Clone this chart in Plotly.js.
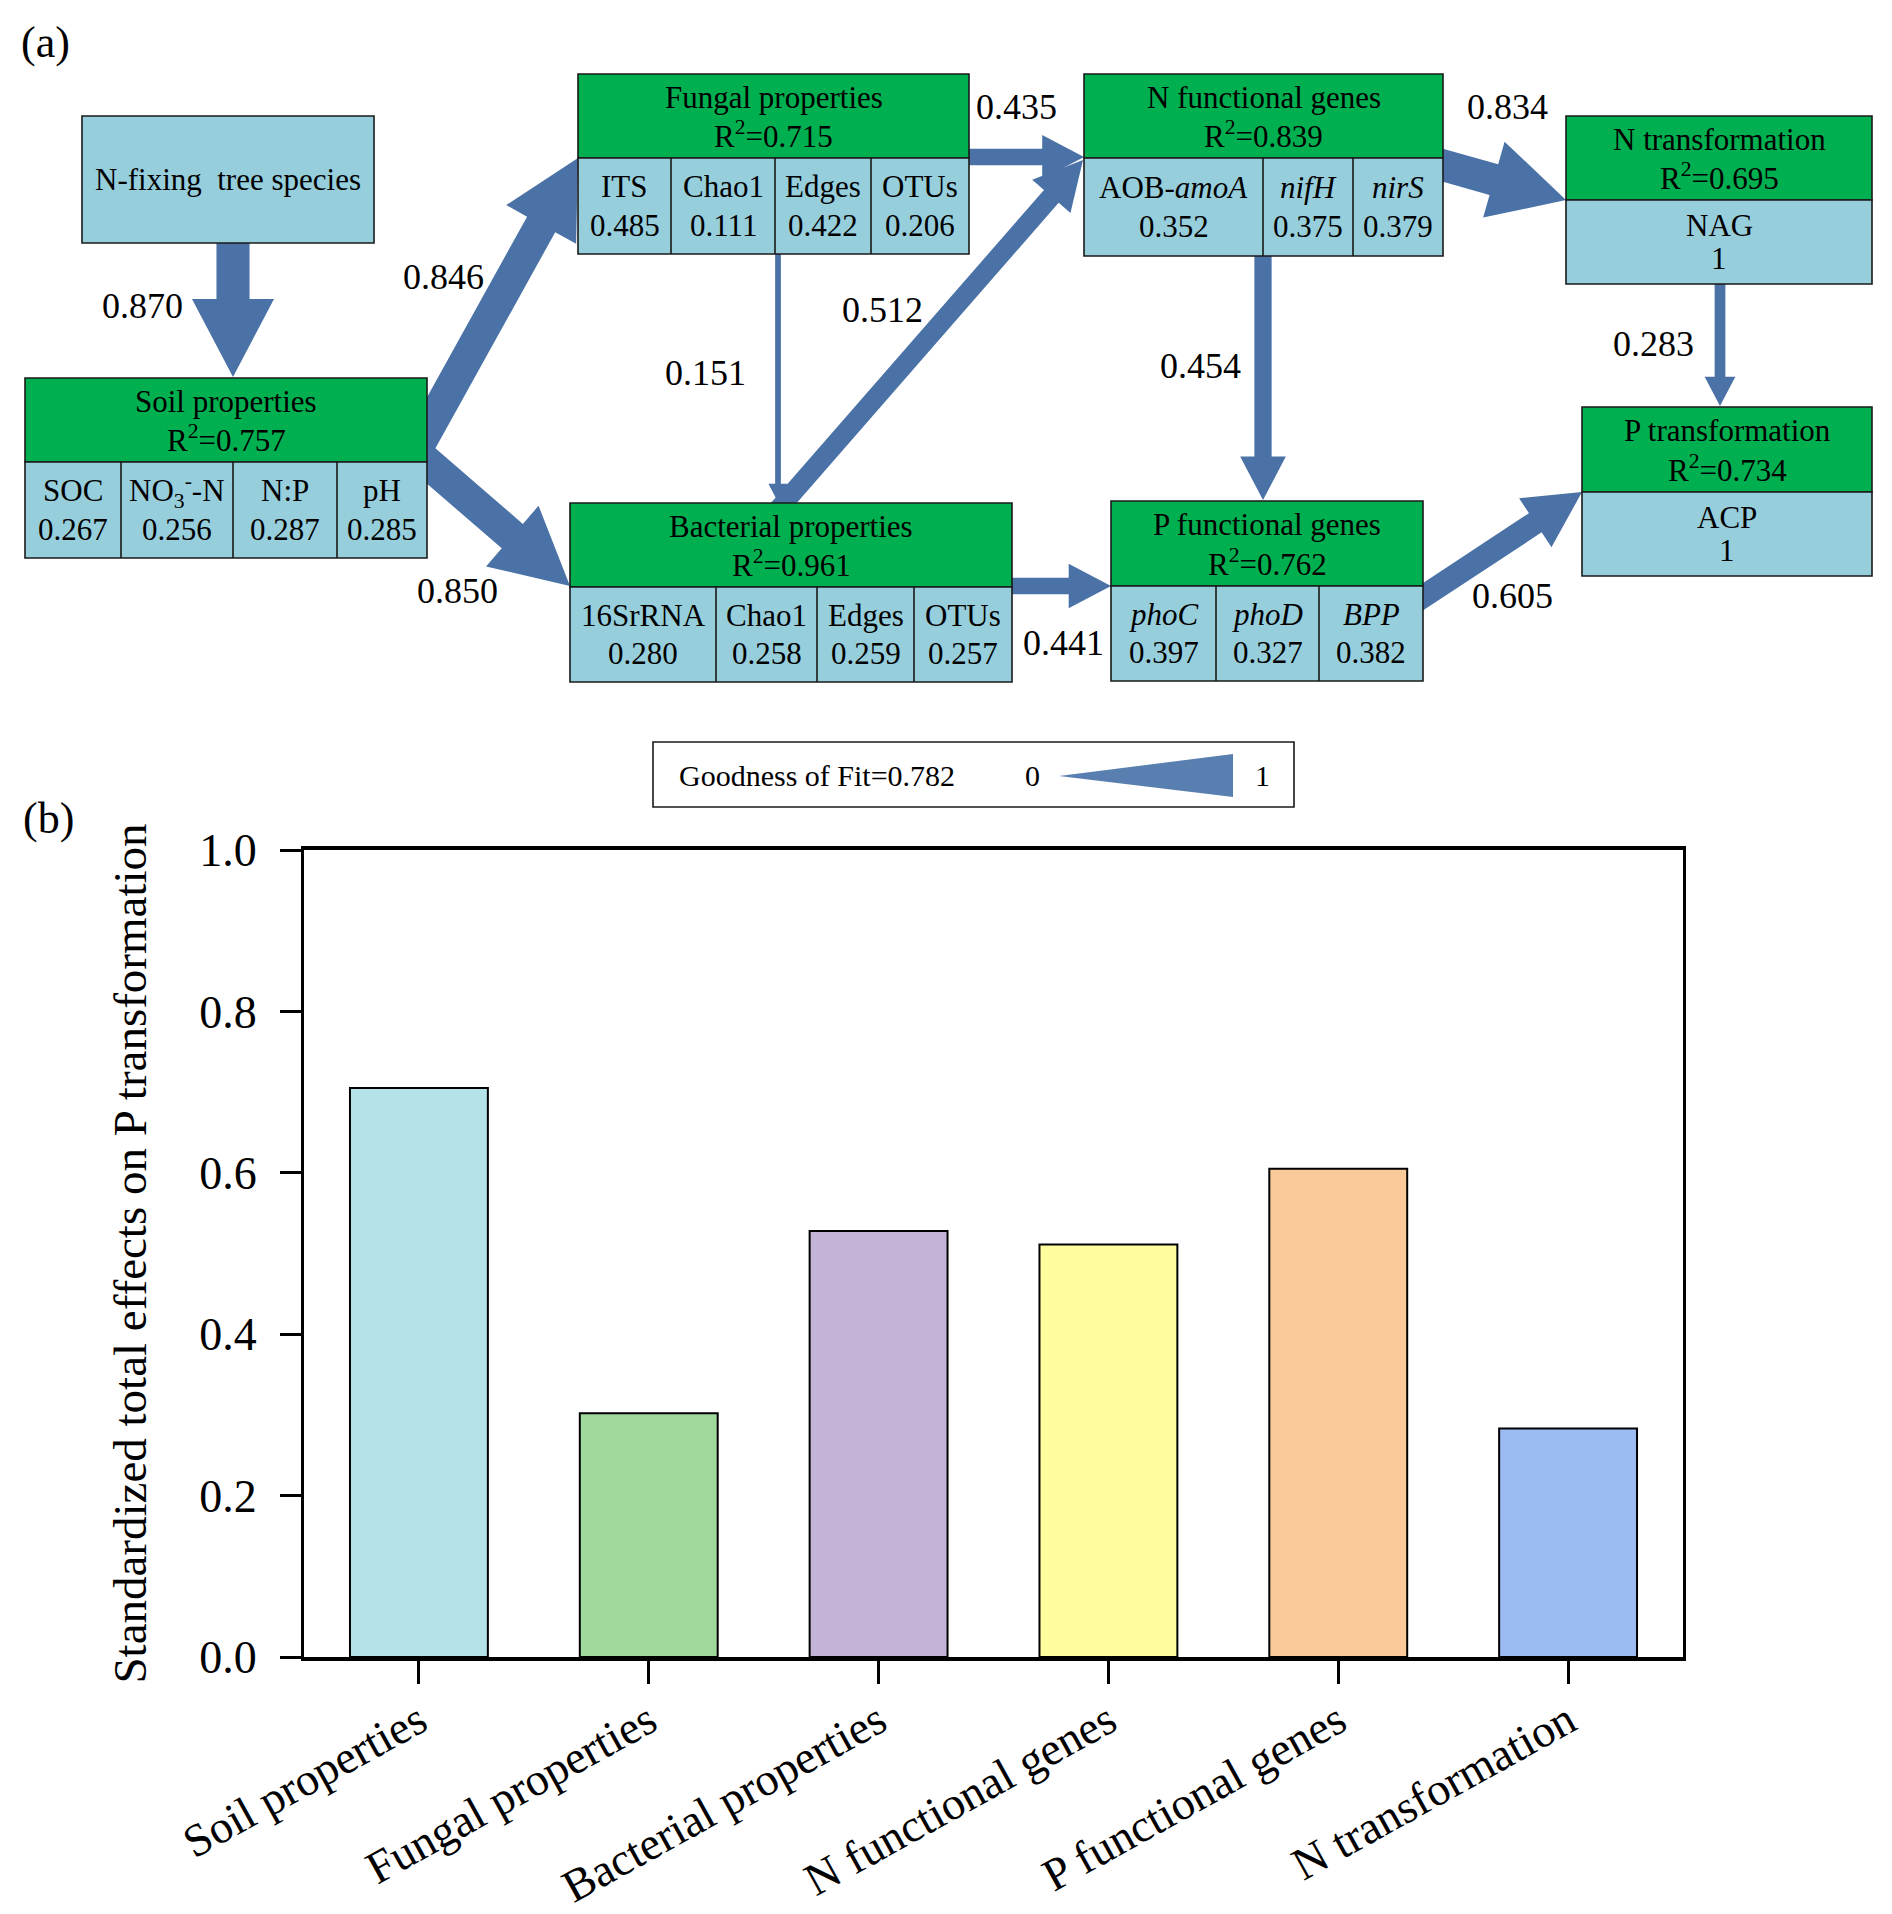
<!DOCTYPE html>
<html>
<head>
<meta charset="utf-8">
<script src="https://cdn.plot.ly/plotly-3.0.1.min.js"></script>
<style>html,body{margin:0;padding:0;background:#fff;}#chart{width:1892px;height:1914px;}</style>
</head>
<body>
<div id="chart"></div>
<script>
// ---------------- DATA ----------------
const categories = ['Soil properties', 'Fungal properties', 'Bacterial properties', 'N functional genes', 'P functional genes', 'N transformation'];
const totalEffects = [0.705, 0.302, 0.528, 0.511, 0.605, 0.283];
const yTickValues = [0.0, 0.2, 0.4, 0.6, 0.8, 1.0];

const nodeNames = ['N-fixing\u00a0 tree species', 'Soil properties', 'Fungal properties', 'Bacterial properties', 'N functional genes', 'P functional genes', 'N transformation', 'P transformation'];
const nodeR2 = [null, 0.757, 0.715, 0.961, 0.839, 0.762, 0.695, 0.734];
const nodeIndicators = [[], ['SOC', 'NO<sub>3</sub><sup>-</sup>-N', 'N:P', 'pH'], ['ITS', 'Chao1', 'Edges', 'OTUs'], ['16SrRNA', 'Chao1', 'Edges', 'OTUs'], ['AOB-<i>amoA</i>', '<i>nifH</i>', '<i>nirS</i>'], ['<i>phoC</i>', '<i>phoD</i>', '<i>BPP</i>'], ['NAG'], ['ACP']];
const nodeLoadings = [[], [0.267, 0.256, 0.287, 0.285], [0.485, 0.111, 0.422, 0.206], [0.280, 0.258, 0.259, 0.257], [0.352, 0.375, 0.379], [0.397, 0.327, 0.382], [1], [1]];

const pathFrom = [0, 1, 1, 2, 2, 3, 3, 4, 4, 5, 6];
const pathTo   = [1, 2, 3, 3, 4, 4, 5, 5, 6, 7, 7];
const pathCoef = [0.870, 0.846, 0.850, 0.151, 0.435, 0.512, 0.441, 0.454, 0.834, 0.605, 0.283];
const goodnessOfFit = 0.782;

// ---------------- LAYOUT / STYLE ----------------
const W = 1892, H = 1914;
const F = '"Liberation Serif", "Times New Roman", serif';
const px = x => x / W, py = y => 1 - y / H;
const barColors = ['#b3e3e9', '#a0d99c', '#c3b3d6', '#fffd9e', '#f9c99a', '#9cbbf2'];
const arrowColor = '#4a72a6';
const headerColor = '#00b050';
const cellColor = '#96cedc';

// box geometry (pixels)
const nodeBox = [
  {x0: 82, x1: 374, y0: 116, y1: 243},
  {x0: 25, x1: 427, y0: 378, ym: 462, y1: 558, div: [121, 233, 337]},
  {x0: 578, x1: 969, y0: 74, ym: 158, y1: 254, div: [671, 775, 871]},
  {x0: 570, x1: 1012, y0: 503, ym: 587, y1: 682, div: [716, 817, 914]},
  {x0: 1084, x1: 1443, y0: 74, ym: 158, y1: 256, div: [1263, 1353]},
  {x0: 1111, x1: 1423, y0: 501, ym: 586, y1: 681, div: [1216, 1319]},
  {x0: 1566, x1: 1872, y0: 116, ym: 200, y1: 284, div: []},
  {x0: 1582, x1: 1872, y0: 407, ym: 492, y1: 576, div: []}
];
// arrow geometry: start, tip, label position (pixels), same order as path arrays
const pathGeom = [
  {s: [233, 236], e: [233, 377], l: [142, 306]},
  {s: [415, 452], e: [578, 158], l: [443, 277]},
  {s: [415, 452], e: [570, 586], l: [457, 591]},
  {s: [778, 250], e: [778, 502], l: [705, 373]},
  {s: [960, 157], e: [1084, 157], l: [1016, 107]},
  {s: [776, 512], e: [1083, 160], l: [882, 310]},
  {s: [1004, 586], e: [1111, 586], l: [1063, 643]},
  {s: [1263, 250], e: [1263, 500], l: [1200, 366]},
  {s: [1435, 163], e: [1566, 200], l: [1507, 107]},
  {s: [1415, 602], e: [1582, 492], l: [1512, 596]},
  {s: [1720, 280], e: [1720, 406], l: [1653, 344]}
];

const shapes = [];
const annotations = [];

function txt(x, y, t, size, extra) {
  return Object.assign({xref: 'paper', yref: 'paper', x: px(x), y: py(y), text: t, showarrow: false,
    xanchor: 'center', yanchor: 'middle', font: {family: F, size: size, color: '#000'}}, extra || {});
}
function polyPath(pts) {
  return 'M' + pts.map(p => px(p[0]).toFixed(5) + ',' + py(p[1]).toFixed(5)).join(' L') + ' Z';
}

// arrows (width scales with path coefficient)
pathCoef.forEach((c, i) => {
  const g = pathGeom[i];
  const w = 38 * c, hw = 2.3 * w + 6, hl = 0.95 * hw;
  const dx = g.e[0] - g.s[0], dy = g.e[1] - g.s[1];
  const L = Math.hypot(dx, dy);
  const ux = dx / L, uy = dy / L, nx = -uy, ny = ux;
  const bx = g.e[0] - ux * hl, by = g.e[1] - uy * hl;
  const pts = [
    [g.s[0] + nx * w / 2, g.s[1] + ny * w / 2],
    [bx + nx * w / 2, by + ny * w / 2],
    [bx + nx * hw / 2, by + ny * hw / 2],
    [g.e[0], g.e[1]],
    [bx - nx * hw / 2, by - ny * hw / 2],
    [bx - nx * w / 2, by - ny * w / 2],
    [g.s[0] - nx * w / 2, g.s[1] - ny * w / 2]
  ];
  shapes.push({type: 'path', xref: 'paper', yref: 'paper', path: polyPath(pts), fillcolor: arrowColor, line: {width: 0}});
  annotations.push(txt(g.l[0], g.l[1], c.toFixed(3), 36));
});

// boxes
function rect(x0, y0, x1, y1, fill) {
  shapes.push({type: 'rect', xref: 'paper', yref: 'paper', x0: px(x0), x1: px(x1), y0: py(y1), y1: py(y0),
    fillcolor: fill, line: {color: '#1a1a1a', width: 1.6}});
}
function vline(x, y0, y1) {
  shapes.push({type: 'line', xref: 'paper', yref: 'paper', x0: px(x), x1: px(x), y0: py(y0), y1: py(y1),
    line: {color: '#1a1a1a', width: 1.6}});
}
const fmtLoad = v => v === 1 ? '1' : v.toFixed(3);

nodeNames.forEach((name, i) => {
  const b = nodeBox[i];
  if (nodeR2[i] === null) {
    rect(b.x0, b.y0, b.x1, b.y1, cellColor);
    annotations.push(txt((b.x0 + b.x1) / 2, (b.y0 + b.y1) / 2, name, 31));
    return;
  }
  rect(b.x0, b.y0, b.x1, b.ym, headerColor);
  rect(b.x0, b.ym, b.x1, b.y1, cellColor);
  b.div.forEach(d => vline(d, b.ym, b.y1));
  const hh = b.ym - b.y0, ch = b.y1 - b.ym, cx = (b.x0 + b.x1) / 2;
  annotations.push(txt(cx, b.y0 + 0.28 * hh, name, 31));
  annotations.push(txt(cx, b.y0 + 0.72 * hh, 'R<sup>2</sup>=' + nodeR2[i].toFixed(3), 31));
  const edges = [b.x0].concat(b.div, [b.x1]);
  nodeIndicators[i].forEach((ind, k) => {
    const mx = (edges[k] + edges[k + 1]) / 2;
    annotations.push(txt(mx, b.ym + 0.3 * ch, ind, 31));
    annotations.push(txt(mx, b.ym + 0.7 * ch, fmtLoad(nodeLoadings[i][k]), 31));
  });
});

// goodness-of-fit legend
shapes.push({type: 'rect', xref: 'paper', yref: 'paper', x0: px(653), x1: px(1294), y0: py(807), y1: py(742),
  fillcolor: '#fff', line: {color: '#1a1a1a', width: 1.6}});
annotations.push(txt(677, 776, 'Goodness of Fit=' + goodnessOfFit.toFixed(3), 30, {xanchor: 'left'}));
annotations.push(txt(1032, 776, '0', 30));
annotations.push(txt(1262, 776, '1', 30));
shapes.push({type: 'path', xref: 'paper', yref: 'paper', path: polyPath([[1059, 776], [1233, 754], [1233, 797]]),
  fillcolor: '#587fb0', line: {width: 0}});

// panel labels
annotations.push(txt(45, 42, '(a)', 44));
annotations.push(txt(48, 818, '(b)', 44));

const trace = {
  type: 'bar', x: categories, y: totalEffects, width: 0.6,
  marker: {color: barColors, line: {color: '#000', width: 2}},
  hoverinfo: 'x+y'
};

const layout = {
  width: W, height: H,
  margin: {l: 0, r: 0, t: 0, b: 0},
  paper_bgcolor: '#fff', plot_bgcolor: '#fff',
  showlegend: false,
  font: {family: F, color: '#000'},
  xaxis: {
    domain: [px(304), px(1683)], range: [-0.5, 5.5],
    showline: true, linecolor: '#000', linewidth: 4, mirror: true,
    ticks: 'outside', ticklen: 23, tickwidth: 3, tickcolor: '#000',
    ticklabelstandoff: -8,
    tickangle: -29, tickfont: {family: F, size: 46, color: '#000'},
    showgrid: false, zeroline: false
  },
  yaxis: {
    domain: [py(1657), py(850)], range: [0, 1],
    tickvals: yTickValues, tickformat: '.1f',
    showline: true, linecolor: '#000', linewidth: 3, mirror: true,
    ticks: 'outside', ticklen: 21, tickwidth: 3, tickcolor: '#000',
    ticklabelstandoff: 14,
    tickfont: {family: F, size: 46, color: '#000'},
    showgrid: false, zeroline: false,
    title: {text: 'Standardized total effects on P transformation', font: {family: F, size: 47, color: '#000'}, standoff: 38}
  },
  shapes: shapes,
  annotations: annotations
};

Plotly.newPlot('chart', [trace], layout, {displayModeBar: false, staticPlot: true});
</script>
</body>
</html>
